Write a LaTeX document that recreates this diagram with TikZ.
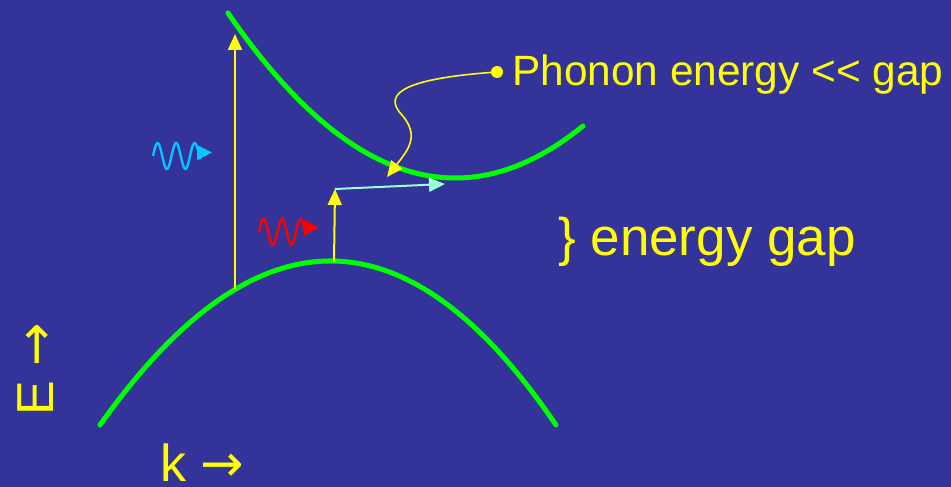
\documentclass[tikz,border=0pt]{standalone}
\usepackage{fontspec}
\setmainfont{Liberation Sans}
\newfontfamily\lbfont{Liberation Sans}
\newfontfamily\arrowfont{DejaVu Sans}
\usetikzlibrary{arrows.meta}
\definecolor{bg}{RGB}{51,51,153}
\definecolor{bandgreen}{RGB}{0,255,0}
\definecolor{ylw}{RGB}{255,255,0}
\definecolor{photonblue}{RGB}{0,200,255}
\definecolor{photonred}{RGB}{255,0,0}
\definecolor{mint}{RGB}{153,255,214}
\begin{document}
\begin{tikzpicture}[x=1pt,y=-1pt,
  band/.style={draw=bandgreen,line width=5pt,line cap=round},
  trans/.style={draw=ylw,line width=2pt,-{Triangle[length=16pt,width=14pt]}},
  scatter/.style={draw=mint,line width=2pt,-{Triangle[length=16pt,width=14pt]}},
  phon/.style={draw=ylw,line width=1.6pt,-{Triangle[length=16pt,width=14pt]}},
  wave/.style={line width=2.4pt},
  lbl/.style={text=ylw,inner sep=0pt,anchor=base west}]
\useasboundingbox[fill=bg] (0,0) rectangle (951,487);

% bands
\draw[band] (228,13) .. controls (303.7,123) and (379.3,178) .. (455,178)
  .. controls (497.7,178) and (540.3,160.7) .. (583,126);
\draw[band] (100,425) .. controls (255.3,206.3) and (407.3,206.3) .. (556,425);

% coordinates
\coordinate (a1) at (235,289);
\coordinate (b1) at (235,34);
\coordinate (a2) at (334,262);
\coordinate (b2) at (335,189);
\coordinate (c2) at (445,184);
\coordinate (t3) at (387,177);

% transitions
\draw[trans] (a1) -- (b1);
\draw[trans] (a2) -- (b2);
\draw[scatter] (b2) -- (c2);

% phonon
\node[circle,fill=ylw,inner sep=0pt,minimum size=12pt] (dot) at (497,72) {};
\draw[phon] (dot.center) .. controls (410,78) and (380,92) .. (402,115)
  .. controls (420,136) and (408,150) .. (t3);

% photons
\draw[wave,draw=photonblue] plot[domain=153:200,samples=90] (\x,{156-13*sin((\x-153)*19.46)});
\fill[photonblue] (197,145) -- (212,152.5) -- (197,160) -- cycle;
\draw[wave,draw=photonred] plot[domain=259:306,samples=90] (\x,{232-13*sin((\x-259)*19.46)});
\fill[photonred] (304,220) -- (319,227.5) -- (304,235) -- cycle;

% labels
\node[lbl,font=\lbfont\fontsize{42.4}{50}\selectfont] (phonon) at (512,85) {Phonon energy << gap};
\node[lbl,font=\lbfont\fontsize{53}{60}\selectfont] (gap) at (558,255) {\} energy gap};
\node[lbl,font=\lbfont\fontsize{52}{60}\selectfont,rotate=90] (elabel) at (53,416) {E {\arrowfont →}};
\node[lbl,font=\lbfont\fontsize{52}{60}\selectfont] (klabel) at (160,481) {k {\arrowfont →}};
\end{tikzpicture}
\end{document}
